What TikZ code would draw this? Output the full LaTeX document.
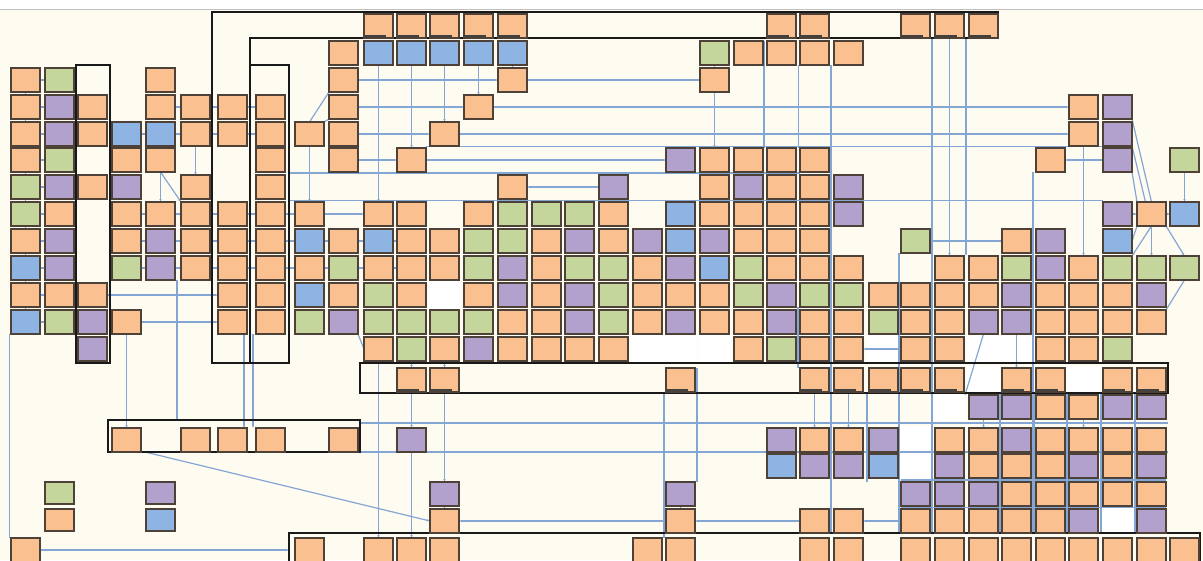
\documentclass[tikz,border=0pt]{standalone}
\usetikzlibrary{arrows.meta}
\pgfdeclarelayer{back}
\pgfdeclarelayer{wires}
\pgfsetlayers{back,wires,main}
\definecolor{bgc}{RGB}{254,251,241}
\definecolor{co}{RGB}{250,192,143}
\definecolor{cg}{RGB}{196,214,155}
\definecolor{cp}{RGB}{178,161,204}
\definecolor{cb}{RGB}{142,180,227}
\definecolor{edge}{RGB}{78,66,56}
\definecolor{wirec}{RGB}{132,166,212}
\def\cxl{{11,45,78,112,146,181,218,256,295,329,364,397,430,464,498,532,565,599,633,666,700,734,767,800,834,869,901,935,969,1002,1036,1069,1103,1137,1170}}
\def\ryl{{14,41,68,95,122,148,175,202,229,256,283,310,337,368,395,428,454,482,509,538}}
\newcommand\boxrow[2]{\foreach \c/\k in {#2}{\node[box,fill=\k] (b\c-#1) at ({\cxl[\c]},{\ryl[#1]}) {};}}
\newcommand\barrow[2]{\foreach \c/\k in {#2}{\node[box,barbox,fill=\k] (b\c-#1) at ({\cxl[\c]},{\ryl[#1]}) {};}}
\newcommand\slotrow[2]{\foreach \c in {#2}{\fill[white] ({\cxl[\c]-2},{\ryl[#1]-2}) rectangle ++(33,28);}}
\begin{document}
\begin{tikzpicture}[x=1pt,y=-1pt,
  box/.style={draw=edge, line width=1.3pt, minimum width=29pt, minimum height=24pt, inner sep=0pt, outer sep=0pt, anchor=north west},
  barbox/.style={path picture={\fill[black!75] ([xshift=1pt,yshift=1pt]path picture bounding box.south west) rectangle ([xshift=-7pt,yshift=3pt]path picture bounding box.south east);}},
  cont/.style={draw=black!90, line width=2.2pt, inner sep=0pt, outer sep=0pt, anchor=north west},
  wire/.style={draw=wirec, line width=1.2pt},
  arr/.style={wire, -{Latex[length=3pt,width=2.6pt]}}]
\useasboundingbox (0,0) rectangle (1203,560);
\begin{pgfonlayer}{back}
\fill[white] (0,0) rectangle (1203,9);
\fill[bgc] (0,9) rectangle (1203,560);
\draw[black!25, line width=0.8pt] (0,9) -- (1203,9);
% white empty slots
\slotrow{10}{12}
\slotrow{12}{18,19,20,25,28,29}
\slotrow{13}{28,31}
\slotrow{14}{27}
\slotrow{15}{26}
\slotrow{16}{26}
\slotrow{18}{32}
\end{pgfonlayer}
% containers
\draw[cont] (212,12) -- (998,12) -- (998,38) -- (250,38) -- (250,363) -- (212,363) -- cycle;
\node[cont, minimum width=39pt, minimum height=298pt] (C2) at (250,65) {};
\node[cont, minimum width=34pt, minimum height=298pt] (C3) at (76,65) {};
\node[cont, minimum width=252pt, minimum height=32pt] (C4) at (108,420) {};
\node[cont, minimum width=808pt, minimum height=30pt] (C5) at (360,363) {};
\node[cont, minimum width=911pt, minimum height=40pt] (C6) at (289,533) {};
% boxes
\barrow{0}{10/co,11/co,12/co,13/co,14/co,22/co,23/co,26/co,27/co,28/co}
\boxrow{1}{9/co,10/cb,11/cb,12/cb,13/cb,14/cb,20/cg,21/co,22/co,23/co,24/co}
\boxrow{2}{0/co,1/cg,4/co,9/co,14/co,20/co}
\boxrow{3}{0/co,1/cp,2/co,4/co,5/co,6/co,7/co,9/co,13/co,31/co,32/cp}
\boxrow{4}{0/co,1/cp,2/co,3/cb,4/cb,5/co,6/co,7/co,8/co,9/co,12/co,31/co,32/cp}
\boxrow{5}{0/co,1/cg,3/co,4/co,7/co,9/co,11/co,19/cp,20/co,21/co,22/co,23/co,30/co,32/cp,34/cg}
\boxrow{6}{0/cg,1/cp,2/co,3/cp,5/co,7/co,14/co,17/cp,20/co,21/cp,22/co,23/co,24/cp}
\boxrow{7}{0/cg,1/co,3/co,4/co,5/co,6/co,7/co,8/co,10/co,11/co,13/co,14/cg,15/cg,16/cg,17/co,19/cb,20/co,21/co,22/co,23/co,24/cp,32/cp,33/co,34/cb}
\boxrow{8}{0/co,1/cp,3/co,4/cp,5/co,6/co,7/co,8/cb,9/co,10/cb,11/co,12/co,13/cg,14/cg,15/co,16/cp,17/co,18/cp,19/cb,20/cp,21/co,22/co,23/co,26/cg,29/co,30/cp,32/cb}
\boxrow{9}{0/cb,1/cp,3/cg,4/cp,5/co,6/co,7/co,8/co,9/cg,10/co,11/co,12/co,13/cg,14/cp,15/co,16/cg,17/cg,18/co,19/cp,20/cb,21/cg,22/co,23/co,24/co,27/co,28/co,29/cg,30/cp,31/co,32/cg,33/cg,34/cg}
\boxrow{10}{0/co,1/co,2/co,6/co,7/co,8/cb,9/co,10/cg,11/co,13/co,14/cp,15/co,16/cp,17/cg,18/co,19/co,20/co,21/cg,22/cp,23/cg,24/cg,25/co,26/co,27/co,28/co,29/cp,30/co,31/co,32/co,33/cp}
\boxrow{11}{0/cb,1/cg,2/cp,3/co,6/co,7/co,8/cg,9/cp,10/cg,11/cg,12/cg,13/cg,14/co,15/co,16/cp,17/cg,18/co,19/cp,20/co,21/co,22/cp,23/co,24/co,25/cg,26/co,27/co,28/cp,29/cp,30/co,31/co,32/co,33/co}
\boxrow{12}{2/cp,10/co,11/cg,12/co,13/cp,14/co,15/co,16/co,17/co,21/co,22/cg,23/co,24/co,26/co,27/co,30/co,31/co,32/cg}
\barrow{13}{11/co,12/co,19/co,23/co,24/co,25/co,26/co,27/co,29/co,30/co,32/co,33/co}
\boxrow{14}{28/cp,29/cp,30/co,31/co,32/cp,33/cp}
\boxrow{15}{3/co,5/co,6/co,7/co,9/co,11/cp,22/cp,23/co,24/co,25/cp,27/co,28/co,29/cp,30/co,31/co,32/co,33/co}
\boxrow{16}{22/cb,23/cp,24/cp,25/cb,27/cp,28/co,29/co,30/co,31/cp,32/co,33/cp}
\boxrow{17}{12/cp,19/cp,26/cp,27/cp,28/cp,29/co,30/co,31/co,32/co,33/co}
\boxrow{18}{12/co,19/co,23/co,24/co,26/co,27/co,28/co,29/co,30/co,31/cp,33/cp}
\boxrow{19}{0/co,8/co,10/co,11/co,12/co,18/co,19/co,23/co,24/co,26/co,27/co,28/co,29/co,30/co,31/co,32/co,33/co,34/co}
% legend
\node[box,fill=cg,minimum height=22pt] (lg1) at (45,482) {};
\node[box,fill=co,minimum height=22pt] (lg2) at (45,509) {};
\node[box,fill=cp,minimum height=22pt] (lg3) at (146,482) {};
\node[box,fill=cb,minimum height=22pt] (lg4) at (146,509) {};
% connectors
\begin{pgfonlayer}{wires}
% left block
\foreach \r in {2,...,11} \draw[wire] (b0-\r.east) -- (b1-\r.west);
\foreach \r/\s in {2/3,3/4,4/5,5/6,6/7,7/8,8/9,9/10,10/11} \draw[wire] (b0-\r.south) -- (b0-\s.north);
\foreach \a/\b/\r in {4/5/3,5/6/3,6/7/3,3/4/4,4/5/4,5/6/4,6/7/4,3/4/7,4/5/7,5/6/7,6/7/7,7/8/7,3/4/8,4/5/8,5/6/8,6/7/8,7/8/8,8/9/8,9/10/8,10/11/8,3/4/9,4/5/9,5/6/9,6/7/9,7/8/9,8/9/9,9/10/9,10/11/9}
  \draw[wire] (b\a-\r.east) -- (b\b-\r.west);
\draw[wire] ([xshift=-1.5pt]b0-11.south west) -- ([xshift=-1.5pt]b0-19.north west);
\draw[arr] (b0-19.east) -- (b0-19.east -| C6.west);
\draw[arr] (b3-11.south) -- (b3-15.north);
\draw[wire] ([xshift=2pt]b4-9.south east) -- ([xshift=2pt]b4-9.south east |- C4.north);
\draw[arr] ([xshift=-3pt]b6-11.south east) -- ([xshift=-3pt]b6-15.north east);
\draw[arr] ([xshift=-3pt]b7-11.south west) -- ([xshift=-3pt]b7-15.north west);
\draw[arr] (b2-10.east) -- (b6-10.west);
\draw[arr] (b3-11.east) -- (b6-11.west);
\draw[arr] ([xshift=37pt]C4.south west) -- (b12-18.west);
\draw[arr] (b4-5.south) -- (b4-7.north);
\draw[arr] (b4-5.south) -- (b5-7.north west);
\draw[arr] (b5-4.south) -- (b5-6.north);
\draw[wire] (b8-4.north east) -- (b9-3.south west);
\draw[wire] (b8-4.north) -- (b9-2.south west);
\draw[arr] (b8-4.south) -- (b8-7.north);
\draw[arr] (b8-7.east) -- (b10-7.west);
% middle top
\draw[arr] (b10-1.south) -- (b10-7.north);
\draw[arr] (b11-1.south) -- (b11-5.north);
\draw[arr] (b12-1.south) -- (b12-4.north);
\draw[arr] (b13-1.south) -- (b13-3.north);
\draw[arr] (b14-1.south) -- (b14-2.north);
\draw[arr] (b20-1.south) -- (b20-2.north);
\draw[arr] (b20-2.south) -- (b20-5.north);
\draw[arr] (b9-2.east) -- (b14-2.west);
\draw[wire] (b14-2.east) -- (b20-2.west);
\draw[arr] (b9-3.east) -- (b13-3.west);
\draw[arr] (b13-3.east) -- (b31-3.west);
\draw[arr] (b9-4.east) -- (b12-4.west);
\draw[arr] (b12-4.east) -- (b31-4.west);
\draw[arr] (b9-5.east) -- (b11-5.west);
\draw[arr] (b11-5.east) -- (b19-5.west);
\draw[wire] ([yshift=1.5pt]b11-5.north east) -- ([yshift=1.5pt]b32-5.north west);
\draw[wire] ([yshift=2pt]b23-6.north west) -- ([yshift=2pt]b23-6.north west -| C2.east);
\draw[arr] (b17-6.west) -- (b14-6.east);
\draw[wire] ([yshift=1.5pt]b32-7.north west) -- ([yshift=1.5pt]b32-7.north west -| C2.east);
\draw[wire] ([xshift=-3pt]b22-1.north west) -- ([xshift=-3pt]b22-5.north west);
\draw[wire] ([xshift=-1.5pt]b23-1.south west) -- ([xshift=-1.5pt]b23-5.north west);
% right top
\draw[arr] (b32-5.west) -- (b30-5.east);
\draw[arr] (b34-5.south) -- (b34-7.north);
\draw[arr] (b33-7.east) -- (b34-7.west);
\draw[arr] (b32-7.east) -- (b33-7.west);
\draw[wire] (b32-3.south east) -- (b33-7.north);
\draw[wire] (b32-4.south east) -- ([xshift=-6pt]b33-7.north);
\draw[wire] (b32-5.south east) -- (b33-7.north west);
\draw[arr] (b33-7.south) -- (b32-9.north east);
\draw[arr] (b33-7.south) -- (b33-9.north);
\draw[arr] (b33-7.south east) -- (b34-9.north);
\draw[arr] (b33-7.south west) -- (b32-8.east);
\draw[arr] (b31-4.south) -- (b31-9.north);
\draw[wire] (b34-9.south) -- (b33-11.north east);
\draw[wire] ([xshift=-3pt]b30-5.south west) -- ([xshift=-3pt]b30-5.south west |- C6.north);
\draw[arr] ([xshift=-3pt]b28-0.south west) -- ([xshift=-3pt]b28-9.north west);
\draw[arr] (b27-0.south) -- (b27-9.north);
\draw[wire] ([xshift=2pt]b26-0.south east) -- ([xshift=2pt]b26-0.south east |- C6.north);
\draw[arr] (b29-8.west) -- (b26-8.east);
\draw[wire] ([xshift=2pt]b23-1.south east) -- ([xshift=2pt]b23-1.south east |- C6.north);
\draw[wire] ([xshift=-2pt]b26-8.south west) -- ([xshift=-2pt]b26-8.south west |- C6.north);
% lower part
\draw[wire] ([yshift=-3pt]C4.north east) -- ([yshift=-3pt]C4.north east -| C5.east);
\draw[wire] (C4.south east) -- (C4.south east -| C5.east);
\draw[wire] ([yshift=2pt]b26-17.north west) -- ([yshift=2pt]b33-17.north east);
\draw[wire] ([yshift=1.5pt]b26-18.north west) -- ([yshift=1.5pt]b33-18.north east);
\foreach \k in {29,30,31,32,33} \draw[wire] ([xshift=-2pt]b\k-14.south west |- C5.south) -- ([xshift=-2pt]b\k-14.south west |- C6.north);
\draw[wire] ([xshift=-2pt]b25-13.south west) -- ([xshift=-2pt]b25-13.south west |- b26-17.north);
\draw[wire] ([xshift=-2pt]b23-10.south west) -- ([xshift=-2pt]b23-13.north west);
\draw[arr] (b11-13.south) -- (b11-15.north);
\draw[arr] (b11-15.south) -- (b11-19.north);
\draw[arr] (b12-13.south) -- (b12-17.north);
\draw[arr] (b12-17.south) -- (b12-18.north);
\draw[arr] (b19-18.west) -- (b12-18.east);
\draw[arr] (b23-18.west) -- (b19-18.east);
\draw[wire] ([xshift=-2pt]b19-13.south west) -- ([xshift=-2pt]b19-19.north west);
\draw[wire] ([xshift=2pt]b19-13.north east) -- ([xshift=2pt]b19-17.north east);
\draw[arr] (b19-17.south) -- (b19-18.north);
\draw[arr] (b10-12.south) -- (b10-19.north);
\draw[wire] (b9-11.south east) -- (b10-12.west);
\draw[arr] (b11-12.south) -- (b11-13.north);
\draw[arr] (b12-12.south) -- (b12-13.north);
\draw[arr] (b23-13.south) -- (b23-15.north);
\draw[arr] (b24-13.south) -- (b24-15.north);
\draw[arr] (b28-14.south) -- (b28-15.north);
\draw[arr] (b31-14.south) -- (b31-15.north);
\draw[wire] (b28-11.south) -- ([xshift=-4pt]b28-14.north west);
\draw[arr] (b26-12.west) -- (b24-12.east);
\draw[arr] (b29-11.south) -- (b29-13.north);
\draw[arr] (b26-18.west) -- (b24-18.east);
\end{pgfonlayer}
\end{tikzpicture}
\end{document}
